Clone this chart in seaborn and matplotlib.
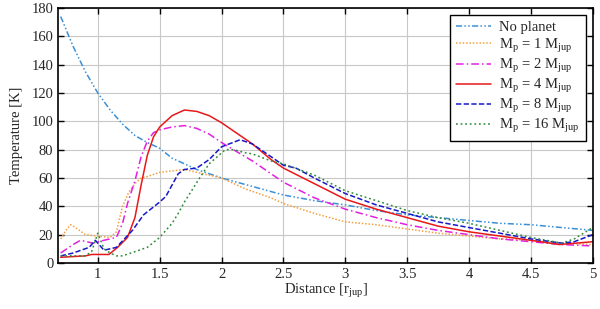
import pandas as pd
import matplotlib
matplotlib.use("Agg")
import matplotlib.pyplot as plt
import seaborn as sns

# Temperature profiles
x_none = [0.7, 0.8, 0.9, 1.0, 1.1, 1.2, 1.3, 1.4, 1.5, 1.6, 1.7, 1.8, 1.9, 2.0,
          2.25, 2.5, 2.75, 3.0, 3.25, 3.5, 3.75, 4.0, 4.25, 4.5, 4.75, 5.0]
t_none = [174, 153, 135, 120, 108, 98, 90, 85, 81, 74, 70, 66, 63, 60,
          54, 48, 44, 41, 37, 34, 32, 30, 28, 27, 25, 23]

x_m1 = [0.7, 0.75, 0.78, 0.82, 0.9, 1.0, 1.1, 1.15, 1.2, 1.25, 1.3, 1.35, 1.4, 1.5,
        1.6, 1.7, 1.8, 1.9, 2.0, 2.2, 2.4, 2.5, 2.75, 3.0, 3.25, 3.5, 3.75, 4.0,
        4.25, 4.5, 4.75, 5.0]
t_m1 = [17, 24, 27, 25, 20, 19, 18, 22, 40, 50, 56, 60, 61, 64,
        65, 66, 64, 62, 60, 52, 46, 42, 35, 29, 27, 24, 21, 19,
        17, 16, 14, 13]

x_m2 = [0.7, 0.8, 0.86, 0.96, 1.05, 1.15, 1.2, 1.24, 1.3, 1.35, 1.4, 1.45, 1.5,
        1.6, 1.7, 1.8, 1.9, 2.0, 2.25, 2.4, 2.5, 2.75, 3.0, 3.25, 3.5, 3.75,
        4.0, 4.25, 4.5, 4.75, 5.0]
t_m2 = [7, 13, 16, 14, 16, 18, 28, 42, 58, 75, 86, 92, 94,
        96, 97, 95, 91, 85, 72, 63, 57, 46, 38, 32, 27, 23,
        20, 17, 15, 13, 12]

x_m4 = [0.7, 0.9, 0.95, 1.0, 1.09, 1.16, 1.24, 1.3, 1.35, 1.4, 1.45, 1.5, 1.6,
        1.7, 1.8, 1.9, 2.0, 2.1, 2.25, 2.4, 2.5, 2.75, 3.0, 3.25, 3.5, 3.75,
        4.0, 4.25, 4.5, 4.73, 5.0]
t_m4 = [4, 5, 6, 6, 6, 11, 18, 32, 55, 76, 89, 96, 104,
        108, 107, 104, 99, 93, 84, 73, 67, 56, 45, 38, 32, 26,
        22, 19, 16, 13, 15]

x_m8 = [0.7, 0.8, 0.93, 0.98, 1.05, 1.15, 1.28, 1.37, 1.5, 1.55, 1.6, 1.65,
        1.7, 1.8, 1.9, 2.0, 2.15, 2.25, 2.4, 2.5, 2.6, 2.75, 3.0, 3.25, 3.5,
        3.75, 4.0, 4.25, 4.5, 4.75, 4.85, 5.0]
t_m8 = [5, 7, 11, 16, 9, 11, 23, 34, 43, 47, 55, 63,
        66, 67, 73, 82, 87, 84, 75, 69, 67, 60, 49, 41, 35,
        29, 25, 21, 17, 14, 15, 20]

x_m16 = [0.7, 0.9, 0.95, 1.0, 1.05, 1.1, 1.15, 1.2, 1.3, 1.4, 1.5, 1.55, 1.6,
         1.65, 1.7, 1.83, 1.9, 2.03, 2.1, 2.18, 2.25, 2.4, 2.5, 2.75, 3.0,
         3.25, 3.5, 3.75, 4.0, 4.25, 4.5, 4.75, 4.85, 5.0]
t_m16 = [5, 5, 8, 21, 10, 7, 5, 5, 8, 11, 18, 23, 28,
         35, 43, 61, 70, 80, 80, 78, 77, 72, 70, 62, 51,
         44, 37, 32, 28, 23, 18, 14, 17, 25]

labels = ["No planet",
          r"M$_\mathrm{p}$ = 1 M$_\mathrm{jup}$",
          r"M$_\mathrm{p}$ = 2 M$_\mathrm{jup}$",
          r"M$_\mathrm{p}$ = 4 M$_\mathrm{jup}$",
          r"M$_\mathrm{p}$ = 8 M$_\mathrm{jup}$",
          r"M$_\mathrm{p}$ = 16 M$_\mathrm{jup}$"]
series = [(x_none, t_none), (x_m1, t_m1), (x_m2, t_m2),
          (x_m4, t_m4), (x_m8, t_m8), (x_m16, t_m16)]
colors = ["#3b8fd6", "#f4a040", "#e31fe0", "#e8181a", "#1818c8", "#2f8a3a"]
dashes = [(4, 1.5, 1, 1.5, 1, 1.5), (1, 1.2), (5, 2, 1, 2), (), (3.5, 1.5), (1.2, 1.8)]

sns.set_style("ticks")
plt.rcParams["font.family"] = ["Liberation Serif", "DejaVu Serif"]
plt.rcParams["mathtext.fontset"] = "custom"
plt.rcParams["mathtext.rm"] = "Liberation Serif"
plt.rcParams["mathtext.it"] = "Liberation Serif:italic"

fig = plt.figure(figsize=(6, 3.09), dpi=100)
ax = fig.add_axes([0.097, 0.149, 0.891, 0.825])

for (xs, ts), lab, c, d in zip(series, labels, colors, dashes):
    df = pd.DataFrame({"Distance": xs, "Temperature": ts})
    sns.lineplot(data=df, x="Distance", y="Temperature", ax=ax,
                 color=c, label=lab, lw=1.1)
    if d:
        ax.lines[-1].set_dashes(d)

ax.set_xlim(0.68, 5)
ax.set_ylim(0, 180)
ax.set_xticks([1, 1.5, 2, 2.5, 3, 3.5, 4, 4.5, 5])
ax.set_xticklabels(["1", "1.5", "2", "2.5", "3", "3.5", "4", "4.5", "5"])
ax.set_yticks(range(0, 181, 20))
ax.grid(True, color="#c8c8c8", lw=0.8)
ax.tick_params(direction="in", top=True, right=True, length=4, labelsize=10.5,
               width=1, color="black")
for s in ax.spines.values():
    s.set_linewidth(1.2)
    s.set_color("black")
ax.set_xlabel(r"Distance [r$_\mathrm{jup}$]", fontsize=10.5, labelpad=1)
ax.set_ylabel("Temperature [K]", fontsize=10.5, labelpad=6)

leg = ax.legend(loc="upper right", fancybox=False, framealpha=1,
                edgecolor="black", fontsize=10.5, handlelength=2.4,
                handletextpad=0.6, borderaxespad=0.5, labelspacing=0.15,
                borderpad=0.4)
leg.get_frame().set_linewidth(1.0)

fig.savefig("out.png", dpi=100)
